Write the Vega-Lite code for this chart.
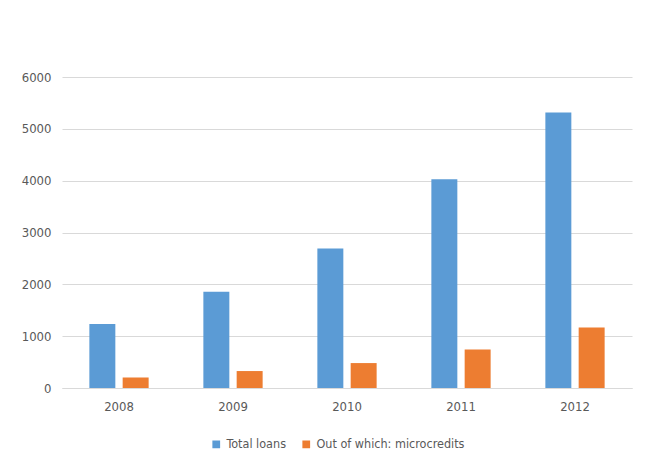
{
  "$schema": "https://vega.github.io/schema/vega-lite/v6.json",
  "autosize": "none",
  "width": 570,
  "height": 311,
  "padding": {"left": 62, "top": 77, "right": 18, "bottom": 81},
  "background": "white",
  "data": {
    "values": [
      {"year": "2008", "series": "Total loans", "value": 1235},
      {"year": "2008", "series": "Out of which: microcredits", "value": 203},
      {"year": "2009", "series": "Total loans", "value": 1858},
      {"year": "2009", "series": "Out of which: microcredits", "value": 327},
      {"year": "2010", "series": "Total loans", "value": 2692},
      {"year": "2010", "series": "Out of which: microcredits", "value": 481},
      {"year": "2011", "series": "Total loans", "value": 4025},
      {"year": "2011", "series": "Out of which: microcredits", "value": 744},
      {"year": "2012", "series": "Total loans", "value": 5313},
      {"year": "2012", "series": "Out of which: microcredits", "value": 1167}
    ]
  },
  "mark": {"type": "bar"},
  "encoding": {
    "x": {
      "field": "year", "type": "nominal",
      "scale": {"paddingInner": 0.48, "paddingOuter": 0.24},
      "axis": {"title": null, "labelAngle": 0, "ticks": false, "domainColor": "#d9d9d9", "labelPadding": 12, "labelFontSize": 13}
    },
    "xOffset": {
      "field": "series", "type": "nominal",
      "sort": ["Total loans", "Out of which: microcredits"],
      "scale": {"paddingInner": 0.22, "paddingOuter": 0}
    },
    "y": {
      "field": "value", "type": "quantitative",
      "scale": {"domain": [0, 6000], "nice": false},
      "axis": {"title": null, "values": [0, 1000, 2000, 3000, 4000, 5000, 6000], "format": "d", "ticks": false, "domain": false, "gridColor": "#d9d9d9", "labelPadding": 11, "labelFontSize": 13}
    },
    "color": {
      "field": "series", "type": "nominal",
      "sort": ["Total loans", "Out of which: microcredits"],
      "scale": {"domain": ["Total loans", "Out of which: microcredits"], "range": ["#5b9bd5", "#ed7d31"]},
      "legend": {"title": null, "orient": "none", "legendX": 148, "legendY": 361, "direction": "horizontal", "symbolType": "square", "symbolSize": 60, "labelFontSize": 12.5, "columnPadding": 14, "labelOffset": 4, "symbolStrokeWidth": 0}
    }
  },
  "config": {
    "view": {"stroke": null},
    "font": "'DejaVu Sans Condensed', 'Liberation Sans', sans-serif",
    "axis": {"labelColor": "#595959", "labelFont": "'DejaVu Sans Condensed', 'Liberation Sans', sans-serif"},
    "legend": {"labelColor": "#595959", "labelFont": "'DejaVu Sans Condensed', 'Liberation Sans', sans-serif"}
  }
}
